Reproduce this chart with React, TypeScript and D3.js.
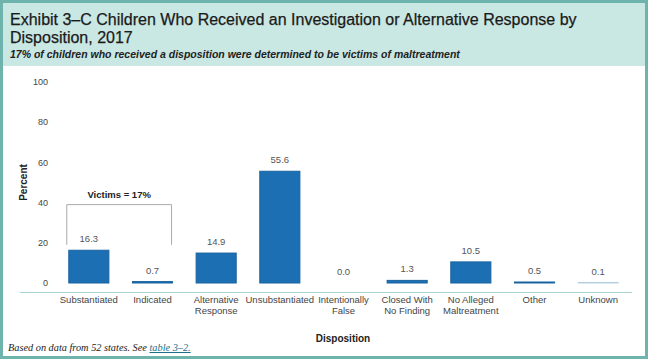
import React from 'react';
import * as d3 from 'd3';

const categories = [
  'Substantiated',
  'Indicated',
  'Alternative|Response',
  'Unsubstantiated',
  'Intentionally|False',
  'Closed With|No Finding',
  'No Alleged|Maltreatment',
  'Other',
  'Unknown',
];
const percents = [16.3, 0.7, 14.9, 55.6, 0.0, 1.3, 10.5, 0.5, 0.1];
const yTicks = [0, 20, 40, 60, 80, 100];

const W = 649;
const H = 360;
const border = '#6fb3ad';
const headerFill = '#c9e7e3';
const barColor = '#1b6fb2';
const textGray = '#444';

const App = () => {
  const x = d3.scaleBand<string>()
    .domain(categories)
    .range([57, 630])
    .paddingInner(0.37)
    .paddingOuter(0.185);

  const y = d3.scaleLinear()
    .domain([0, 100])
    .range([283, 82]);

  const bw = x.bandwidth();
  const bracketL = x(categories[0])! - 2;
  const bracketR = x(categories[1])! + bw - 1;

  return (
    <svg
      width={W}
      height={H}
      style={{ position: 'fixed', left: 0, top: 0, background: '#fff' }}
      fontFamily="'Liberation Sans', Arial, sans-serif"
    >
      {/* frame + header band */}
      <rect x={1.5} y={1.5} width={W - 4} height={H - 4} fill="#fff" stroke={border} strokeWidth={3} />
      <rect x={3} y={3} width={W - 7} height={63} fill={headerFill} />
      <text x={10} y={25} fontSize={16} fill="#1a1a1a" stroke="#1a1a1a" strokeWidth={0.25}>
        Exhibit 3–C Children Who Received an Investigation or Alternative Response by
      </text>
      <text x={10} y={43} fontSize={16} fill="#1a1a1a" stroke="#1a1a1a" strokeWidth={0.25}>
        Disposition, 2017
      </text>
      <text x={10} y={58} fontSize={10.5} fontStyle="italic" fontWeight="bold" fill="#222">
        17% of children who received a disposition were determined to be victims of maltreatment
      </text>

      {/* y axis ticks */}
      {yTicks.map(t => (
        <text key={t} x={48} y={y(t)} dy="0.35em" textAnchor="end" fontSize={9} fill={textGray}>
          {t}
        </text>
      ))}
      <text
        transform={`translate(27, ${y(50)}) rotate(-90)`}
        textAnchor="middle"
        fontSize={10}
        fontWeight="bold"
        fill="#222"
      >
        Percent
      </text>

      {/* bars */}
      {categories.map((c, i) => {
        const v = percents[i];
        const top = y(v);
        return (
          <g key={c}>
            <rect
              x={x(c)}
              y={top}
              width={bw}
              height={y(0) - top}
              fill={barColor}
              stroke="#1a64a0"
              strokeOpacity={Math.min(1, v * 2 + 0.06)}
              strokeWidth={1}
            />
            <text x={x(c)! + bw / 2} y={top - 8} textAnchor="middle" fontSize={9.5} fill="#555">
              {v.toFixed(1)}
            </text>
          </g>
        );
      })}

      {/* victims bracket */}
      <path
        d={`M${bracketL},${y(19)} V${y(39)} H${bracketR} V${y(19)}`}
        fill="none"
        stroke="#aaa"
        strokeWidth={1}
      />
      <text x={(bracketL + bracketR) / 2} y={y(39) - 7} textAnchor="middle" fontSize={9.5} fontWeight="bold" fill="#222">
        Victims = 17%
      </text>

      {/* x axis */}
      <line x1={20} x2={632} y1={292.5} y2={292.5} stroke="#a9d3cf" strokeWidth={1} />
      {categories.map(c => {
        const lines = c.split('|');
        return (
          <text key={c} x={x(c)! + bw / 2} y={303} textAnchor="middle" fontSize={9.5} fill={textGray}>
            {lines.map((l, j) => (
              <tspan key={j} x={x(c)! + bw / 2} dy={j === 0 ? 0 : 11}>
                {l}
              </tspan>
            ))}
          </text>
        );
      })}
      <text x={343} y={342} textAnchor="middle" fontSize={10} fontWeight="bold" fill="#222">
        Disposition
      </text>

      {/* footnote */}
      <text x={8} y={351} fontSize={10.3} fontStyle="italic" fill="#222" fontFamily="'Liberation Serif', 'Times New Roman', serif">
        Based on data from 52 states. See{' '}
        <tspan fill="#1d6f8a" textDecoration="underline">table 3–2.</tspan>
      </text>
    </svg>
  );
};

export default App;
